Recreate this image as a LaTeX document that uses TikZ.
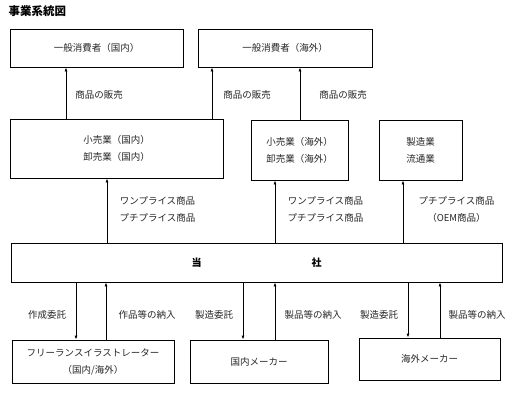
\documentclass[tikz,border=0pt]{standalone}
\usepackage{fontspec}
\setmainfont{Noto Sans CJK JP}
\usepackage{tikz}
\usetikzlibrary{arrows.meta}
\tikzset{
  blk/.style={draw, line width=0.8pt, align=center, inner sep=0pt,
    font=\fontsize{9.5}{17}\selectfont, text=black!85},
  lbl/.style={align=center, font=\fontsize{9.5}{17}\selectfont, text=black!85},
  arr/.style={line width=0.8pt, -{Latex[length=4pt,width=3pt]}}
}
\begin{document}
\begin{tikzpicture}[x=1pt, y=-1pt]
\useasboundingbox (0,0) rectangle (529,392);
\node[anchor=west, font=\bfseries\fontsize{11.5}{12}\selectfont] (title) at (5,11) {事業系統図};
% Consumers
\node[blk, minimum width=173, minimum height=38] (cons1) at (96.5,48) {一般消費者（国内）};
\node[blk, minimum width=174, minimum height=38] (cons2) at (285,48) {一般消費者（海外）};
% Retailers etc.
\node[blk, minimum width=213, minimum height=59] (ret1) at (116.5,148.5) {小売業（国内）\\卸売業（国内）};
\node[blk, minimum width=97, minimum height=60] (ret2) at (299.5,150) {小売業（海外）\\卸売業（海外）};
\node[blk, minimum width=83, minimum height=60] (mfg) at (420.5,150) {製造業\\流通業};
% Company
\node[blk, minimum width=491, minimum height=39, text=black, font=\bfseries\fontsize{10}{12}\selectfont] (co) at (256.5,262.5) {当\hspace{110pt}社};
% Suppliers
\node[blk, minimum width=162, minimum height=43] (frl) at (93,361.5) {フリーランスイラストレーター\\（国内/海外）};
\node[blk, minimum width=138, minimum height=43] (dmk) at (259,361.5) {国内メーカー};
\node[blk, minimum width=141, minimum height=42] (omk) at (429.5,359) {海外メーカー};
% Sales to consumers
\draw[arr] (ret1.north -| 66,0) -- (cons1.south -| 66,0);
\draw[arr] (ret1.north -| 212,0) -- (cons2.south -| 212,0);
\draw[arr] (ret2.north -| 300,0) -- (cons2.south -| 300,0);
\node[lbl] (s1) at (99,95) {商品の販売};
\node[lbl] (s2) at (247,95) {商品の販売};
\node[lbl] (s3) at (343,95) {商品の販売};
% Supply to retailers
\draw[arr] (co.north -| 107,0) -- (ret1.south -| 107,0);
\draw[arr] (co.north -| 275,0) -- (ret2.south -| 275,0);
\draw[arr] (co.north -| 403,0) -- (mfg.south -| 403,0);
\node[lbl] (p1) at (157.5,209.5) {ワンプライス商品\\プチプライス商品};
\node[lbl] (p2) at (325.5,209.5) {ワンプライス商品\\プチプライス商品};
\node[lbl] (p3) at (456.5,209.5) {プチプライス商品\\（OEM商品）};
% Orders and deliveries
\draw[arr] (co.south -| 76,0) -- (frl.north -| 76,0);
\draw[arr] (frl.north -| 106,0) -- (co.south -| 106,0);
\draw[arr] (co.south -| 243,0) -- (dmk.north -| 243,0);
\draw[arr] (dmk.north -| 275,0) -- (co.south -| 275,0);
\draw[arr] (co.south -| 408,0) -- (omk.north -| 408,0);
\draw[arr] (omk.north -| 440,0) -- (co.south -| 440,0);
\node[lbl] (o1) at (47,315) {作成委託};
\node[lbl] (d1) at (147,315) {作品等の納入};
\node[lbl] (o2) at (214,315) {製造委託};
\node[lbl] (d2) at (313,315) {製品等の納入};
\node[lbl] (o3) at (379,315) {製造委託};
\node[lbl] (d3) at (477,315) {製品等の納入};
\end{tikzpicture}
\end{document}
